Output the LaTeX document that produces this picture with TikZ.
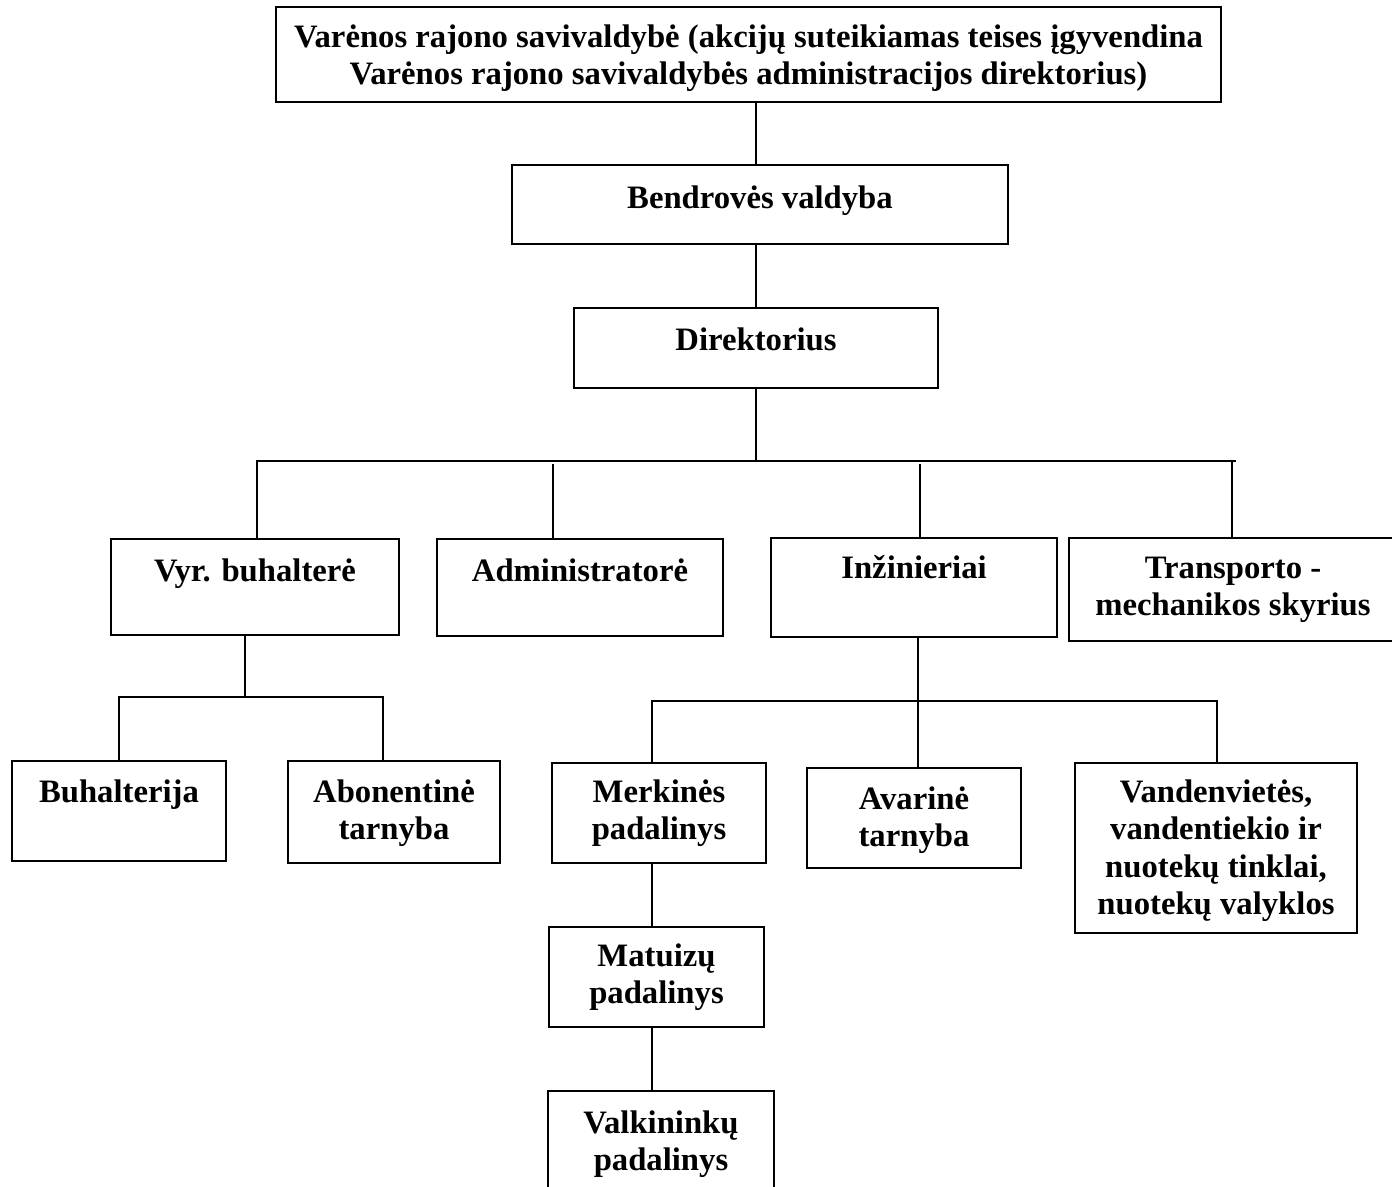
\documentclass[tikz,border=0pt]{standalone}
\usepackage{fontspec}
\setmainfont{Liberation Serif}
\tikzset{
  box/.style={draw, line width=2pt, inner sep=0pt, anchor=north west, align=center,
    font=\bfseries\fontsize{32.7}{37.5}\selectfont},
  link/.style={line width=2pt, line cap=rect},
}

\begin{document}
\begin{tikzpicture}[x=1pt,y=-1pt]
  \useasboundingbox (0,0) rectangle (1392,1186);
  \clip (0,0) rectangle (1392,1186);
  %% upper levels
  \node[box, minimum width=945pt, text height=77.5pt, text depth=17.5pt] (top) at (275,6)
    {Varėnos rajono savivaldybė (akcijų suteikiamas teises įgyvendina\\
     Varėnos rajono savivaldybės administracijos direktorius)};
  \node[box, minimum width=496pt, text height=43pt, text depth=36pt] (bend) at (511,164) {Bendrovės valdyba};
  \node[box, minimum width=364pt, text height=42pt, text depth=38pt] (dir) at (573,307) {Direktorius};
  %% departments
  \node[box, minimum width=288pt, text height=42pt, text depth=54pt] (vyr) at (110,538) {Vyr. buhalterė};
  \node[box, minimum width=286pt, text height=42pt, text depth=55pt] (adm) at (436,538) {Administratorė};
  \node[box, minimum width=286pt, text height=40pt, text depth=59pt] (inz) at (770,537) {Inžinieriai};
  \node[box, minimum width=328pt, text height=77.5pt, text depth=25.5pt] (trans) at (1068,537)
    {Transporto -\\ mechanikos skyrius};
  %% units
  \node[box, minimum width=214pt, text height=41pt, text depth=59pt] (buh) at (11,760) {Buhalterija};
  \node[box, minimum width=212pt, text height=78.5pt, text depth=23.5pt] (abon) at (287,760) {Abonentinė\\ tarnyba};
  \node[box, minimum width=214pt, text height=76.5pt, text depth=23.5pt] (merk) at (551,762) {Merkinės\\ padalinys};
  \node[box, minimum width=214pt, text height=78.5pt, text depth=21.5pt] (avar) at (806,767) {Avarinė\\ tarnyba};
  \node[box, minimum width=282pt, text height=151.5pt, text depth=18.5pt] (vand) at (1074,762)
    {Vandenvietės,\\ vandentiekio ir\\ nuotekų tinklai,\\ nuotekų valyklos};
  \node[box, minimum width=215pt, text height=76.5pt, text depth=23.5pt] (mat) at (548,926) {Matuizų\\ padalinys};
  \node[box, minimum width=226pt, text height=79.5pt, text depth=40.5pt] (valk) at (547,1090) {Valkininkų\\ padalinys};

  %% connectors
  \draw[link] (top.south -| dir.north) -- (bend.north -| dir.north);
  \draw[link] (bend.south -| dir.north) -- (dir.north);
  \coordinate (busL) at (257,461);
  \coordinate (busR) at (1235,461);
  \coordinate (dropA) at (553,465);
  \coordinate (dropI) at (920,465);
  \coordinate (dropT) at (1232,461);
  \draw[link] (dir.south) -- (dir.south |- busL);
  \draw[link] (busL) -- (busR);
  \draw[link] (busL) -- (busL |- vyr.north);
  \draw[link] (dropA) -- (dropA |- adm.north);
  \draw[link] (dropI) -- (dropI |- inz.north);
  \draw[link] (dropT) -- (dropT |- trans.north);
  % accounting
  \coordinate (accM) at (245,697);
  \coordinate (accL) at (119,697);
  \coordinate (accR) at (383,697);
  \draw[link] (accM |- vyr.south) -- (accM);
  \draw[link] (accL) -- (accR);
  \draw[link] (accL) -- (accL |- buh.north);
  \draw[link] (accR) -- (accR |- abon.north);
  % engineering
  \coordinate (engM) at (918,701);
  \coordinate (engL) at (652,701);
  \coordinate (engR) at (1217,701);
  \draw[link] (engM |- inz.south) -- (engM);
  \draw[link] (engL) -- (engR);
  \draw[link] (engL) -- (engL |- merk.north);
  \draw[link] (engM) -- (engM |- avar.north);
  \draw[link] (engR) -- (engR |- vand.north);
  \draw[link] (merk.south -| engL) -- (mat.north -| engL);
  \draw[link] (mat.south -| engL) -- (valk.north -| engL);
\end{tikzpicture}
\end{document}
